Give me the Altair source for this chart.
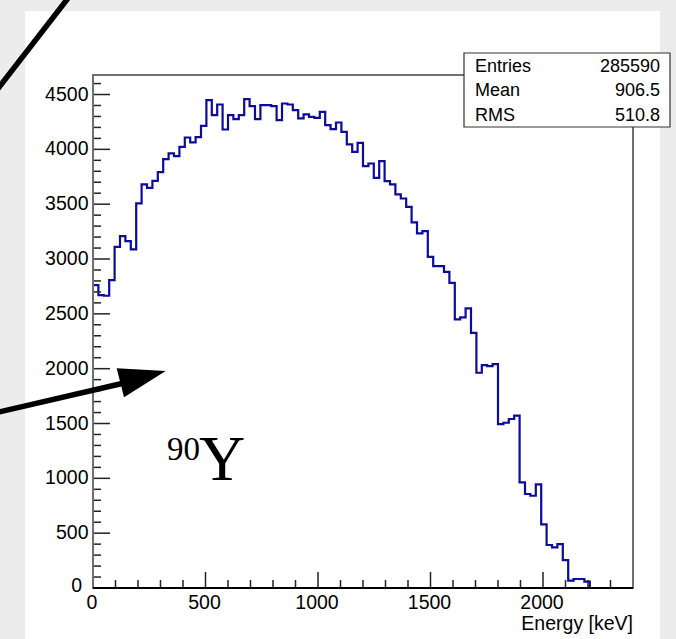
import altair as alt
import pandas as pd

# ---------------- data ----------------
BIN_WIDTH = 24  # keV, 100 bins from 0 to 2400 keV
counts = [2762, 2671, 2665, 2808, 3111, 3209, 3163, 3088, 3507, 3680,
          3649, 3713, 3792, 3911, 3963, 3938, 4023, 4108, 4063, 4111,
          4214, 4448, 4312, 4409, 4181, 4312, 4275, 4312, 4458, 4394,
          4275, 4403, 4403, 4394, 4266, 4418, 4409, 4357, 4282, 4319,
          4296, 4287, 4342, 4221, 4184, 4245, 4160, 4045, 3977, 4059,
          3847, 3871, 3740, 3892, 3710, 3680, 3589, 3552, 3476, 3334,
          3233, 3254, 3020, 2935, 2935, 2883, 2783, 2449, 2468, 2550,
          2327, 1963, 2033, 2024, 2042, 1495, 1507, 1541, 1571, 963,
          857, 841, 945, 580, 392, 371, 401, 255, 67, 82,
          82, 58, 0, 0, 0, 0, 0, 0, 0, 0]

x_major_ticks = [0, 500, 1000, 1500, 2000]
y_major_ticks = [0, 500, 1000, 1500, 2000, 2500, 3000, 3500, 4000, 4500]
x_minor_ticks = [v for v in range(100, 2400, 100) if v % 500 != 0]
y_minor_ticks = [v for v in range(100, 4700, 100) if v % 500 != 0]

stat_names = ["Entries", "Mean", "RMS"]
stat_values = ["285590", "906.5", "510.8"]

X_TITLE = "Energy [keV]"
LABEL_SUP = "90"
LABEL_MAIN = "Y"

X_MAX = 2400
Y_MAX = 4678

# ---------------- layout ----------------
W, H = 540, 513          # plot frame
OX, OY = 93, 75          # frame origin in the page
FONT = "Liberation Sans"
SERIF = "Liberation Serif"
AX_FS = 19.5


def px(x):
    return x - OX


def py(y):
    return y - OY


energy = [i * BIN_WIDTH for i in range(len(counts) + 1)]
step_counts = counts + [counts[-1]]
hist_df = pd.DataFrame({"energy": energy, "count": step_counts})
one = pd.DataFrame({"k": [0]})

xs = alt.Scale(domain=[0, X_MAX], nice=False, zero=False)
ys = alt.Scale(domain=[0, Y_MAX], nice=False, zero=False)

layers = []

# white canvas of the pasted picture
layers.append(alt.Chart(one).mark_rect(color="white").encode(
    x=alt.value(px(25)), x2=alt.value(px(660)),
    y=alt.value(py(11)), y2=alt.value(py(650))))

# histogram
layers.append(alt.Chart(hist_df).mark_line(
    interpolate="step-after", color="#0b0b9c", strokeWidth=2.2).encode(
    x=alt.X("energy:Q", scale=xs, axis=None),
    y=alt.Y("count:Q", scale=ys, axis=None),
))

# ticks (inside the frame, ROOT style)
layers.append(alt.Chart(pd.DataFrame({"energy": x_major_ticks})).mark_rule(
    color="#222222", strokeWidth=1.5).encode(
    x=alt.X("energy:Q", scale=xs, axis=None),
    y=alt.value(H), y2=alt.value(H - 16)))
layers.append(alt.Chart(pd.DataFrame({"energy": x_minor_ticks})).mark_rule(
    color="#222222", strokeWidth=1.5).encode(
    x=alt.X("energy:Q", scale=xs, axis=None),
    y=alt.value(H), y2=alt.value(H - 8)))
layers.append(alt.Chart(pd.DataFrame({"count": y_major_ticks})).mark_rule(
    color="#222222", strokeWidth=1.5).encode(
    y=alt.Y("count:Q", scale=ys, axis=None),
    x=alt.value(0), x2=alt.value(17)))
layers.append(alt.Chart(pd.DataFrame({"count": y_minor_ticks})).mark_rule(
    color="#222222", strokeWidth=1.5).encode(
    y=alt.Y("count:Q", scale=ys, axis=None),
    x=alt.value(0), x2=alt.value(8)))

# tick labels, drawn through the scales
x_lab_df = pd.DataFrame({"energy": x_major_ticks,
                         "label": [str(v) for v in x_major_ticks]})
layers.append(alt.Chart(x_lab_df).mark_text(
    font=FONT, fontSize=AX_FS, align="center", baseline="alphabetic",
    color="black", dx=-1).encode(
    x=alt.X("energy:Q", scale=xs, axis=None),
    y=alt.value(py(609)), text="label:N"))

y_lab_df = pd.DataFrame({"count": y_major_ticks[1:],
                         "label": [str(v) for v in y_major_ticks[1:]]})
layers.append(alt.Chart(y_lab_df).mark_text(
    font=FONT, fontSize=AX_FS, align="right", baseline="middle",
    color="black").encode(
    y=alt.Y("count:Q", scale=ys, axis=None),
    x=alt.value(px(88.5)), text="label:N"))
y0_df = pd.DataFrame({"count": y_major_ticks[:1],
                      "label": [str(v) for v in y_major_ticks[:1]]})
layers.append(alt.Chart(y0_df).mark_text(
    font=FONT, fontSize=AX_FS, align="right", baseline="middle",
    color="black", dy=-2).encode(
    y=alt.Y("count:Q", scale=ys, axis=None),
    x=alt.value(px(82)), text="label:N"))

layers.append(alt.Chart(one).mark_text(
    text=X_TITLE, font=FONT, fontSize=AX_FS, align="right",
    baseline="alphabetic", color="black").encode(
    x=alt.value(W), y=alt.value(py(630))))

# frame
layers.append(alt.Chart(one).mark_rect(
    fillOpacity=0, stroke="#707070", strokeWidth=2).encode(
    x=alt.value(0), x2=alt.value(W), y=alt.value(0), y2=alt.value(H)))
layers.append(alt.Chart(one).mark_rule(color="black", strokeWidth=2).encode(
    x=alt.value(0), x2=alt.value(W), y=alt.value(H)))

# stats box
layers.append(alt.Chart(one).mark_rect(
    fill="white", stroke="#333333", strokeWidth=1.2).encode(
    x=alt.value(px(464)), x2=alt.value(px(670)),
    y=alt.value(py(53)), y2=alt.value(py(127))))
ROW0, ROW_STEP = 71.7, 24.7
for i, (n, v) in enumerate(zip(stat_names, stat_values)):
    yb = py(ROW0 + i * ROW_STEP)
    layers.append(alt.Chart(one).mark_text(
        text=n, font=FONT, fontSize=18, align="left", baseline="alphabetic",
        color="black").encode(x=alt.value(px(475)), y=alt.value(yb)))
    layers.append(alt.Chart(one).mark_text(
        text=v, font=FONT, fontSize=18, align="right", baseline="alphabetic",
        color="black").encode(x=alt.value(px(660)), y=alt.value(yb)))

# diagonal line at top-left
layers.append(alt.Chart(one).mark_rule(color="black", strokeWidth=5.5).encode(
    x=alt.value(px(-5)), y=alt.value(py(92.5)),
    x2=alt.value(px(70.5)), y2=alt.value(py(-5))))

# arrow
layers.append(alt.Chart(one).mark_rule(color="black", strokeWidth=5.5).encode(
    x=alt.value(px(-5)), y=alt.value(py(412.9)),
    x2=alt.value(px(122)), y2=alt.value(py(383.5))))
layers.append(alt.Chart(one).mark_point(
    shape="M45.4,-11.8L-3.6,-14.5L3.7,14.5Z", size=4, filled=True,
    color="black", opacity=1, strokeWidth=0).encode(
    x=alt.value(px(120.3)), y=alt.value(py(382.8))))

# 90Y label
layers.append(alt.Chart(one).mark_text(
    text=LABEL_SUP, font=SERIF, fontSize=33, align="left",
    baseline="alphabetic", color="black").encode(
    x=alt.value(px(167)), y=alt.value(py(460))))
layers.append(alt.Chart(one).mark_text(
    text=LABEL_MAIN, font=SERIF, fontSize=64, align="left",
    baseline="alphabetic", color="black").encode(
    x=alt.value(px(199)), y=alt.value(py(480))))

chart = alt.layer(*layers).properties(
    width=W, height=H,
    padding={"left": OX, "top": OY, "right": 676 - OX - W, "bottom": 639 - OY - H},
    autosize=alt.AutoSizeParams(type="none"),
    background="#ececec",
).configure_view(stroke=None)

chart.save("out.html", embed_options={"renderer": "svg", "actions": False})
